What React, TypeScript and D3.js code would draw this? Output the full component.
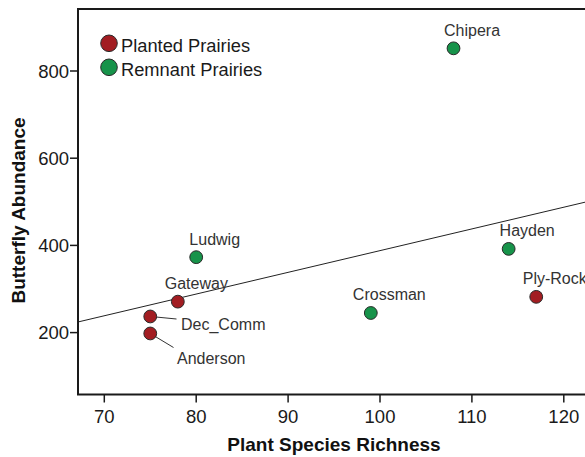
import React from "react";
import * as d3 from "d3";

const sites = ["Chipera", "Ludwig", "Gateway", "Dec_Comm", "Anderson", "Crossman", "Hayden", "Ply-Rock"];
const richness = [108, 80, 78, 75, 75, 99, 114, 117];
const abundance = [852, 373, 271, 237, 198, 245, 392, 282];
const prairieType = ["Remnant", "Remnant", "Planted", "Planted", "Planted", "Remnant", "Remnant", "Planted"];
const xTicks = [70, 80, 90, 100, 110, 120];
const yTicks = [200, 400, 600, 800];
const fitIntercept = -110;
const fitSlope = 4.98;
const legendItems = [
  { key: "Planted", label: "Planted Prairies" },
  { key: "Remnant", label: "Remnant Prairies" },
];

const colors: Record<string, string> = { Planted: "#a21d22", Remnant: "#17934a" };
const W = 585;
const H = 457;
const left = 78;
const top = 9;
const bottom = 394.5;

// leader-line labels (those offset away from points)
const leaderLabels: Record<string, { tx: number; ty: number; lx: number; ly: number }> = {
  Dec_Comm: { tx: 181, ty: 330, lx: 176.5, ly: 319 },
  Anderson: { tx: 177, ty: 364, lx: 173.5, ly: 347.5 },
};

export default function App() {
  const x = d3.scaleLinear().domain([70, 120]).range([104.3, 563.8]);
  const y = d3.scaleLinear().domain([200, 800]).range([332.6, 71]);
  const xMin = x.invert(left);
  const xMax = x.invert(W + 5);
  const fitLine = d3.line<number>().x((v) => x(v)).y((v) => y(fitIntercept + fitSlope * v));
  const font = "'Liberation Sans', Arial, sans-serif";
  const pts = sites.map((s, i) => ({ name: s, x: richness[i], y: abundance[i], type: prairieType[i] }));

  return (
    <svg width={W} height={H} style={{ display: "block", position: "absolute", left: 0, top: 0 }} fontFamily={font}>
      <rect width={W} height={H} fill="#fff" />
      {/* fit line */}
      <path d={fitLine([xMin, xMax]) ?? ""} stroke="#222" strokeWidth={1} fill="none" />
      {/* axes frame */}
      <path d={`M${W + 5},${top}H${left}V${bottom}H${W + 5}`} stroke="#1a1a1a" strokeWidth={2} fill="none" />
      {xTicks.map((t) => (
        <g key={t}>
          <line x1={x(t)} x2={x(t)} y1={bottom} y2={bottom + 8} stroke="#1a1a1a" strokeWidth={1.5} />
          <text x={x(t)} y={423} textAnchor="middle" fontSize={18.5} fill="#1a1a1a">{t}</text>
        </g>
      ))}
      {yTicks.map((t) => (
        <g key={t}>
          <line x1={left - 8} x2={left} y1={y(t)} y2={y(t)} stroke="#1a1a1a" strokeWidth={1.5} />
          <text x={left - 9} y={y(t) + 6.5} textAnchor="end" fontSize={18.5} fill="#1a1a1a">{t}</text>
        </g>
      ))}
      <text x={334} y={451} textAnchor="middle" fontSize={19} fontWeight="bold" fill="#111">Plant Species Richness</text>
      <text transform="translate(25,210.5) rotate(-90)" textAnchor="middle" fontSize={19} fontWeight="bold" fill="#111">Butterfly Abundance</text>
      {/* leader lines */}
      {pts.filter((p) => leaderLabels[p.name]).map((p) => (
        <line key={p.name + "l"} x1={x(p.x)} y1={y(p.y)} x2={leaderLabels[p.name].lx} y2={leaderLabels[p.name].ly} stroke="#333" strokeWidth={1} />
      ))}
      {/* points */}
      {pts.map((p) => (
        <circle key={p.name} cx={x(p.x)} cy={y(p.y)} r={6.4} fill={colors[p.type]} stroke="#2a2a2a" strokeWidth={1} />
      ))}
      {/* labels */}
      {pts.map((p) => {
        const ll = leaderLabels[p.name];
        return ll ? (
          <text key={p.name + "t"} x={ll.tx} y={ll.ty} fontSize={16} fill="#333">{p.name}</text>
        ) : (
          <text key={p.name + "t"} x={x(p.x) + 18.5} y={y(p.y) - 12.5} textAnchor="middle" fontSize={16} fill="#333">{p.name}</text>
        );
      })}
      {/* legend */}
      {legendItems.map((l, i) => (
        <g key={l.key}>
          <circle cx={109} cy={43.3 + i * 24} r={8.3} fill={colors[l.key]} stroke="#2a2a2a" strokeWidth={1} />
          <text x={121} y={51.5 + i * 24} fontSize={18.3} fill="#1a1a1a">{l.label}</text>
        </g>
      ))}
    </svg>
  );
}
